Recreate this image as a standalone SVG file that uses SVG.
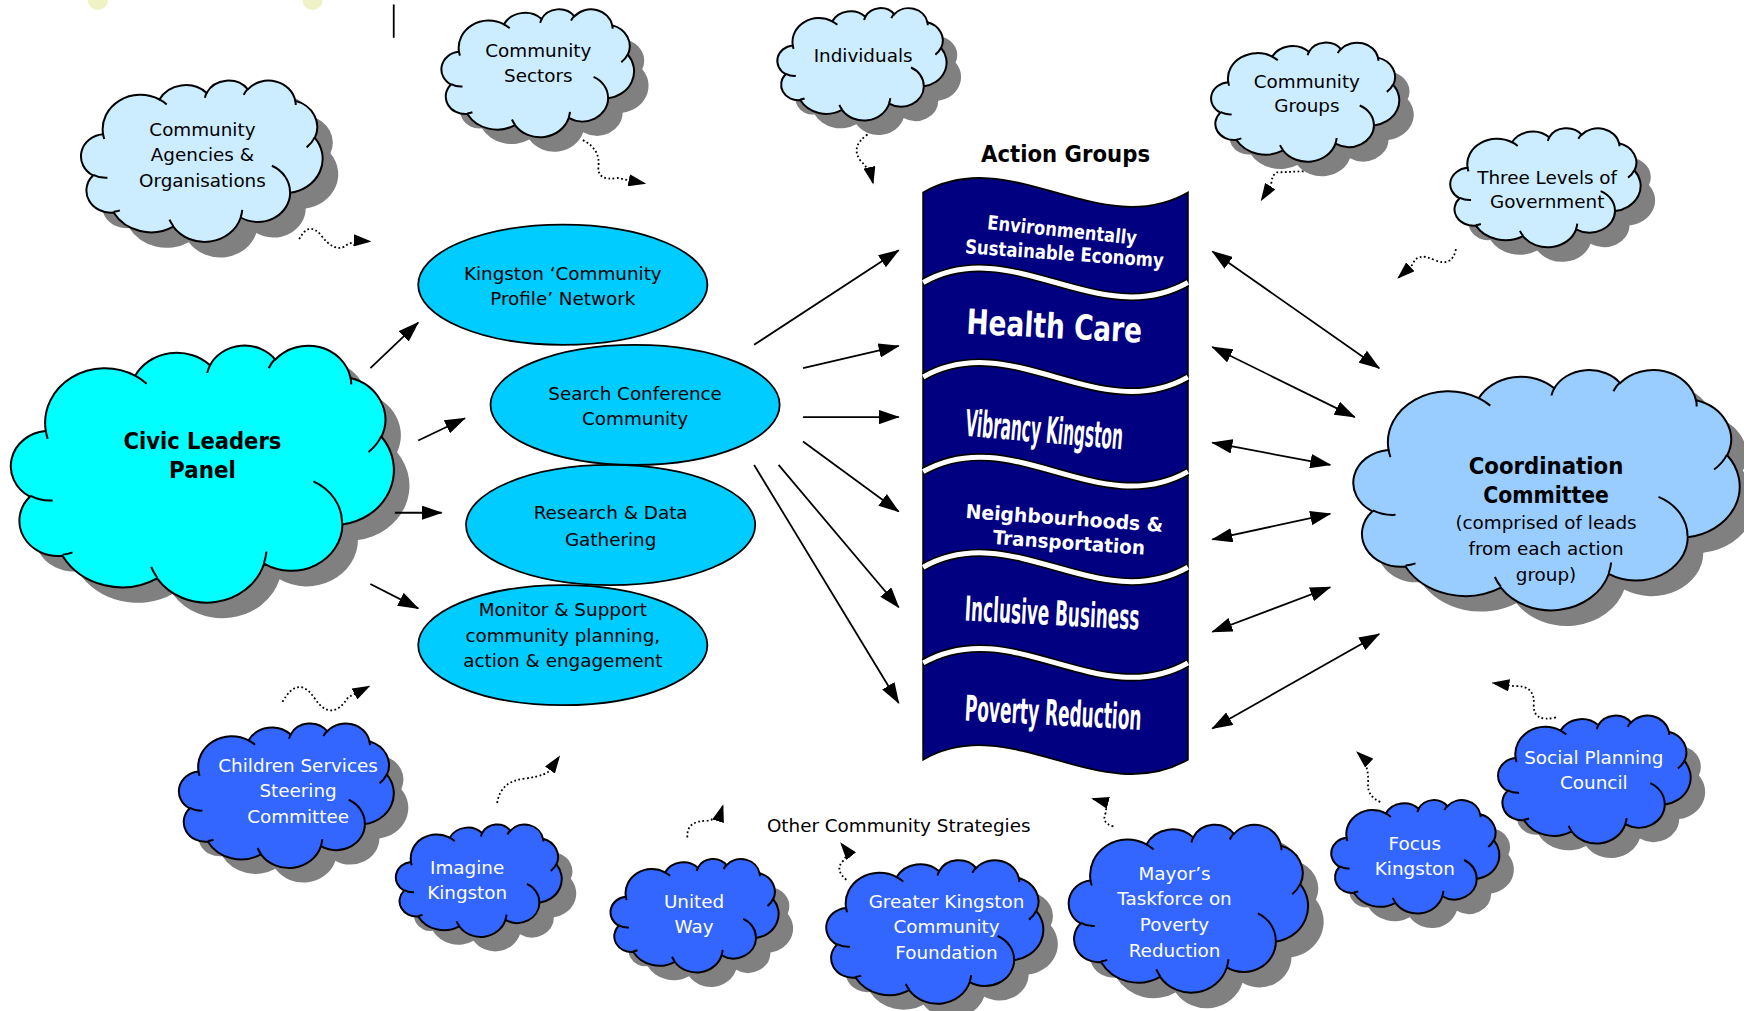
<svg xmlns="http://www.w3.org/2000/svg" xmlns:xlink="http://www.w3.org/1999/xlink" width="1744" height="1011" viewBox="0 0 1744 1011">
<style>
.t{font-family:"DejaVu Sans",Verdana,sans-serif;font-size:16.5px;text-anchor:middle;fill:#000}
.w{fill:#fff}
.b{font-weight:bold;font-size:20px}
.ag{font-family:"DejaVu Sans",Verdana,sans-serif;font-weight:bold;fill:#fff;text-anchor:middle}
.agc{font-family:"DejaVu Sans Condensed","DejaVu Sans",sans-serif;font-weight:bold;fill:#fff;text-anchor:middle}
.ln{stroke:#000;stroke-width:1.6;fill:none}
.dt{stroke:#000;stroke-width:1.6;fill:none;stroke-dasharray:1.6 2.2}
.ell{fill:#00CCFF;stroke:#000;stroke-width:1.6}
</style>
<defs>
<path id="cloud" vector-effect="non-scaling-stroke" d="M9.03 33.26A15.63 21.27 0 0 1 32.42 12.04A12.34 16.82 0 0 1 51.98 7.94A10.1 13.76 0 0 1 69.06 5.74A11.24 15.27 0 0 1 88.7 12.9A12.34 16.84 0 0 1 96.8 35.79A15.68 21.34 0 0 1 86.58 69.91A13.39 18.21 0 0 1 66.1 85.21A15.63 21.33 0 0 1 38.15 90.89A17.87 24.4 0 0 1 13.43 82.1A10.09 13.7 0 0 1 4.89 59.13A10.06 13.76 0 0 1 8.94 33.57Z"/>
<path id="arcs" vector-effect="non-scaling-stroke" d="M10.86 60.59A10.06 13.76 0 0 1 5 58.75M16.04 80.78A10.09 13.7 0 0 1 13.47 81.67M38.14 90.49A15.63 21.27 0 0 1 36.59 86.47M66.73 80.44A15.63 21.33 0 0 1 66.11 84.86M79 53.13A13.39 18.21 0 0 1 86.53 69.65M96.75 35.54A12.34 16.84 0 0 1 93.4 41.73M88.71 12.56A11.24 15.27 0 0 1 88.89 15.49M67.31 9.15A11.24 15.27 0 0 1 69.03 5.42M51.25 10.93A10.1 13.76 0 0 1 52.08 7.71M32.41 12.02A15.63 21.27 0 0 1 35.42 15.14M9.55 36.55A15.63 21.27 0 0 1 9.03 33.26"/>
<marker id="ah" viewBox="0 0 19 13" refX="18" refY="6.5" markerWidth="19" markerHeight="13" markerUnits="userSpaceOnUse" orient="auto-start-reverse"><path d="M0 0L19 6.5L0 13z" fill="#000"/></marker>
<marker id="ahs" viewBox="0 0 16 11" refX="15" refY="5.5" markerWidth="16" markerHeight="11" markerUnits="userSpaceOnUse" orient="auto"><path d="M0 0L16 5.5L0 11z" fill="#000"/></marker>
<clipPath id="bandClip"><rect x="829" y="150" width="240" height="560"/></clipPath>
</defs>
<rect width="1744" height="1011" fill="#fff"/>
<g transform="scale(1.112245)">
<g id="decor">
<circle cx="88" cy="0" r="9" fill="#EEF2C4"/>
<circle cx="281" cy="0" r="9" fill="#EEF2C4"/>
<line x1="354" y1="4" x2="354" y2="34" stroke="#000" stroke-width="1.6"/>
</g>

<g id="agencies">
<use xlink:href="#cloud" transform="translate(87 86) scale(2.17 1.45)" fill="#808080" stroke="none"/>
<use xlink:href="#cloud" transform="translate(73 72) scale(2.17 1.45)" fill="#CCECFF" stroke="#000" stroke-width="2"/>
<use xlink:href="#arcs" transform="translate(73 72) scale(2.17 1.45)" fill="none" stroke="#000" stroke-width="2"/>
<text class="t" x="182" y="122">Community</text><text class="t" x="182" y="145">Agencies &amp;</text><text class="t" x="182" y="168">Organisations</text>
</g>
<g id="sectors">
<use xlink:href="#cloud" transform="translate(410 21) scale(1.73 1.15)" fill="#808080" stroke="none"/>
<use xlink:href="#cloud" transform="translate(397 8) scale(1.73 1.15)" fill="#CCECFF" stroke="#000" stroke-width="2"/>
<use xlink:href="#arcs" transform="translate(397 8) scale(1.73 1.15)" fill="none" stroke="#000" stroke-width="2"/>
<text class="t" x="484" y="51">Community</text><text class="t" x="484" y="74">Sectors</text>
</g>
<g id="individuals">
<use xlink:href="#cloud" transform="translate(712 20) scale(1.52 1.01)" fill="#808080" stroke="none"/>
<use xlink:href="#cloud" transform="translate(699 7) scale(1.52 1.01)" fill="#CCECFF" stroke="#000" stroke-width="2"/>
<use xlink:href="#arcs" transform="translate(699 7) scale(1.52 1.01)" fill="none" stroke="#000" stroke-width="2"/>
<text class="t" x="776" y="56">Individuals</text>
</g>
<g id="groups">
<use xlink:href="#cloud" transform="translate(1102 51) scale(1.69 1.07)" fill="#808080" stroke="none"/>
<use xlink:href="#cloud" transform="translate(1089 38) scale(1.69 1.07)" fill="#CCECFF" stroke="#000" stroke-width="2"/>
<use xlink:href="#arcs" transform="translate(1089 38) scale(1.69 1.07)" fill="none" stroke="#000" stroke-width="2"/>
<text class="t" x="1175" y="79">Community</text><text class="t" x="1175" y="101">Groups</text>
</g>
<g id="government">
<use xlink:href="#cloud" transform="translate(1317 128) scale(1.71 1.07)" fill="#808080" stroke="none"/>
<use xlink:href="#cloud" transform="translate(1304 115) scale(1.71 1.07)" fill="#CCECFF" stroke="#000" stroke-width="2"/>
<use xlink:href="#arcs" transform="translate(1304 115) scale(1.71 1.07)" fill="none" stroke="#000" stroke-width="2"/>
<text class="t" x="1391" y="165">Three Levels of</text><text class="t" x="1391" y="187">Government</text>
</g>
<g id="civic">
<use xlink:href="#cloud" transform="translate(24 324) scale(3.44 2.31)" fill="#808080" stroke="none"/>
<use xlink:href="#cloud" transform="translate(10 310) scale(3.44 2.31)" fill="#00FFFF" stroke="#000" stroke-width="2"/>
<use xlink:href="#arcs" transform="translate(10 310) scale(3.44 2.31)" fill="none" stroke="#000" stroke-width="2"/>
<text class="t b" x="182" y="404" textLength="142" lengthAdjust="spacingAndGlyphs">Civic Leaders</text><text class="t b" x="182" y="430" textLength="60" lengthAdjust="spacingAndGlyphs">Panel</text>
</g>
<g id="coordination">
<use xlink:href="#cloud" transform="translate(1231 346) scale(3.47 2.16)" fill="#808080" stroke="none"/>
<use xlink:href="#cloud" transform="translate(1217 332) scale(3.47 2.16)" fill="#99CCFF" stroke="#000" stroke-width="2"/>
<use xlink:href="#arcs" transform="translate(1217 332) scale(3.47 2.16)" fill="none" stroke="#000" stroke-width="2"/>
<text class="t b" x="1390" y="426" textLength="139" lengthAdjust="spacingAndGlyphs">Coordination</text><text class="t b" x="1390" y="452" textLength="113" lengthAdjust="spacingAndGlyphs">Committee</text>
<text class="t" x="1390" y="476">(comprised of leads</text><text class="t" x="1390" y="499">from each action</text><text class="t" x="1390" y="522">group)</text>
</g>
<g id="children">
<use xlink:href="#cloud" transform="translate(174 663) scale(1.93 1.30)" fill="#808080" stroke="none"/>
<use xlink:href="#cloud" transform="translate(161 650) scale(1.93 1.30)" fill="#3366FF" stroke="#000" stroke-width="2"/>
<use xlink:href="#arcs" transform="translate(161 650) scale(1.93 1.30)" fill="none" stroke="#000" stroke-width="2"/>
<text class="t w" x="268" y="694">Children Services</text><text class="t w" x="268" y="717">Steering</text><text class="t w" x="268" y="740">Committee</text>
</g>
<g id="imagine">
<use xlink:href="#cloud" transform="translate(369 754) scale(1.49 1.01)" fill="#808080" stroke="none"/>
<use xlink:href="#cloud" transform="translate(356 741) scale(1.49 1.01)" fill="#3366FF" stroke="#000" stroke-width="2"/>
<use xlink:href="#arcs" transform="translate(356 741) scale(1.49 1.01)" fill="none" stroke="#000" stroke-width="2"/>
<text class="t w" x="420" y="786">Imagine</text><text class="t w" x="420" y="808">Kingston</text>
</g>
<g id="unitedway">
<use xlink:href="#cloud" transform="translate(562 785) scale(1.51 1.02)" fill="#808080" stroke="none"/>
<use xlink:href="#cloud" transform="translate(549 772) scale(1.51 1.02)" fill="#3366FF" stroke="#000" stroke-width="2"/>
<use xlink:href="#arcs" transform="translate(549 772) scale(1.51 1.02)" fill="none" stroke="#000" stroke-width="2"/>
<text class="t w" x="624" y="816">United</text><text class="t w" x="624" y="839">Way</text>
</g>
<g id="foundation">
<use xlink:href="#cloud" transform="translate(756 786) scale(1.95 1.29)" fill="#808080" stroke="none"/>
<use xlink:href="#cloud" transform="translate(743 773) scale(1.95 1.29)" fill="#3366FF" stroke="#000" stroke-width="2"/>
<use xlink:href="#arcs" transform="translate(743 773) scale(1.95 1.29)" fill="none" stroke="#000" stroke-width="2"/>
<text class="t w" x="851" y="816">Greater Kingston</text><text class="t w" x="851" y="839">Community</text><text class="t w" x="851" y="862">Foundation</text>
</g>
<g id="mayor">
<use xlink:href="#cloud" transform="translate(975 755) scale(2.15 1.51)" fill="#808080" stroke="none"/>
<use xlink:href="#cloud" transform="translate(961 741) scale(2.15 1.51)" fill="#3366FF" stroke="#000" stroke-width="2"/>
<use xlink:href="#arcs" transform="translate(961 741) scale(2.15 1.51)" fill="none" stroke="#000" stroke-width="2"/>
<text class="t w" x="1056" y="791">Mayor’s</text><text class="t w" x="1056" y="814">Taskforce on</text><text class="t w" x="1056" y="837">Poverty</text><text class="t w" x="1056" y="860">Reduction</text>
</g>
<g id="focus">
<use xlink:href="#cloud" transform="translate(1210 732) scale(1.51 1.02)" fill="#808080" stroke="none"/>
<use xlink:href="#cloud" transform="translate(1197 719) scale(1.51 1.02)" fill="#3366FF" stroke="#000" stroke-width="2"/>
<use xlink:href="#arcs" transform="translate(1197 719) scale(1.51 1.02)" fill="none" stroke="#000" stroke-width="2"/>
<text class="t w" x="1272" y="764">Focus</text><text class="t w" x="1272" y="787">Kingston</text>
</g>
<g id="social">
<use xlink:href="#cloud" transform="translate(1360 656) scale(1.73 1.15)" fill="#808080" stroke="none"/>
<use xlink:href="#cloud" transform="translate(1347 643) scale(1.73 1.15)" fill="#3366FF" stroke="#000" stroke-width="2"/>
<use xlink:href="#arcs" transform="translate(1347 643) scale(1.73 1.15)" fill="none" stroke="#000" stroke-width="2"/>
<text class="t w" x="1433" y="687">Social Planning</text><text class="t w" x="1433" y="709">Council</text>
</g>

<g id="profile"><ellipse class="ell" cx="506" cy="256" rx="130" ry="54"/><text class="t" x="506" y="252">Kingston ‘Community</text><text class="t" x="506" y="274">Profile’ Network</text></g>
<g id="search"><ellipse class="ell" cx="571" cy="364" rx="130" ry="54"/><text class="t" x="571" y="360">Search Conference</text><text class="t" x="571" y="382">Community</text></g>
<g id="research"><ellipse class="ell" cx="549" cy="472" rx="130" ry="54"/><text class="t" x="549" y="467">Research &amp; Data</text><text class="t" x="549" y="491">Gathering</text></g>
<g id="monitor"><ellipse class="ell" cx="506" cy="580" rx="130" ry="54"/><text class="t" x="506" y="554">Monitor &amp; Support</text><text class="t" x="506" y="577">community planning,</text><text class="t" x="506" y="600">action &amp; engagement</text></g>

<g id="actiongroups">
<text class="t b" x="958" y="146" textLength="152" lengthAdjust="spacingAndGlyphs">Action Groups</text>
<path d="M830 173C909 128 989 218 1068 173L1068 683C989 728 909 638 830 683Z" fill="#000080" stroke="#000" stroke-width="1.6"/>
<g clip-path="url(#bandClip)">
<path d="M830 254C909 209 989 299 1068 254M830 339C909 294 989 384 1068 339M830 424C909 379 989 469 1068 424M830 510C909 465 989 555 1068 510M830 596C909 551 989 641 1068 596" fill="none" stroke="#000" stroke-width="7.5"/>
<path d="M830 254C909 209 989 299 1068 254M830 339C909 294 989 384 1068 339M830 424C909 379 989 469 1068 424M830 510C909 465 989 555 1068 510M830 596C909 551 989 641 1068 596" fill="none" stroke="#fff" stroke-width="4.5"/>
</g>
<text class="ag" x="955" y="213" font-size="17.5" textLength="135" lengthAdjust="spacingAndGlyphs" transform="rotate(6 955 207)">Environmentally</text>
<text class="ag" x="957" y="234" font-size="17.5" textLength="179" lengthAdjust="spacingAndGlyphs" transform="rotate(4 957 228)">Sustainable Economy</text>
<text class="ag" x="948" y="304" font-size="31" textLength="158" lengthAdjust="spacingAndGlyphs" transform="rotate(3 948 293)">Health Care</text>
<text class="agc" x="939" y="398" font-size="33" textLength="142" lengthAdjust="spacingAndGlyphs" transform="rotate(5 939 385)">Vibrancy Kingston</text>
<text class="ag" x="957" y="472" font-size="17.5" textLength="178" lengthAdjust="spacingAndGlyphs" transform="rotate(4 957 466)">Neighbourhoods &amp;</text>
<text class="ag" x="961" y="494" font-size="17.5" textLength="137" lengthAdjust="spacingAndGlyphs" transform="rotate(4 961 488)">Transportation</text>
<text class="agc" x="946" y="562" font-size="31" textLength="157" lengthAdjust="spacingAndGlyphs" transform="rotate(3 946 551)">Inclusive Business</text>
<text class="agc" x="947" y="652" font-size="32" textLength="159" lengthAdjust="spacingAndGlyphs" transform="rotate(3 947 640)">Poverty Reduction</text>
</g>

<g id="other"><text class="t" x="808" y="748">Other Community Strategies</text></g>

<g id="connectors">
<g class="ln" marker-end="url(#ah)">
<path d="M333 331L376 290"/>
<path d="M376 396L418 376"/>
<path d="M355 461L397 461"/>
<path d="M333 525L376 547"/>
<path d="M678 310L808 225"/>
<path d="M722 331L808 311"/>
<path d="M722 375L808 375"/>
<path d="M722 397L808 460"/>
<path d="M700 418L808 546"/>
<path d="M678 418L808 632"/>
</g>
<g class="ln" marker-start="url(#ah)" marker-end="url(#ah)">
<path d="M1090 226L1240 331"/>
<path d="M1090 312L1218 375"/>
<path d="M1090 398L1196 418"/>
<path d="M1090 485L1196 462"/>
<path d="M1090 568L1196 528"/>
<path d="M1090 655L1240 570"/>
</g>
<g class="dt" marker-end="url(#ahs)">
<path d="M269 215Q278 198 289 212T309 222Q316 216 333 217"/>
<path d="M524 126Q540 134 538 150Q537 163 555 160L580 165"/>
<path d="M780 121Q764 132 774 145Q782 152 785 165"/>
<path d="M1172 154L1148 155Q1143 158 1143 166L1134 180"/>
<path d="M1309 224Q1306 240 1290 234Q1274 226 1270 238L1257 250"/>
<path d="M254 631Q268 606 283 628T313 627L332 617"/>
<path d="M447 722Q450 702 472 700Q494 697 496 690L503 680"/>
<path d="M618 753Q617 738 635 738Q646 737 650 724"/>
<path d="M761 791Q750 782 758 774Q764 768 756 758"/>
<path d="M1001 743Q990 740 994 731Q997 722 982 718"/>
<path d="M1241 721Q1229 716 1230 704Q1231 686 1220 676"/>
<path d="M1399 645Q1378 650 1379 633Q1380 616 1362 617L1342 614"/>
</g>
</g>
</g>
</svg>
